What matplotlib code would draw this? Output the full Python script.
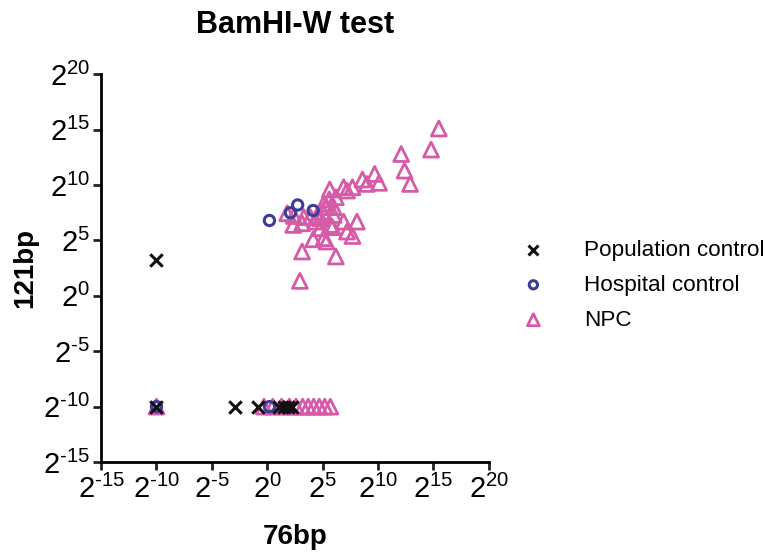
import numpy as np
import matplotlib
matplotlib.use("Agg")
import matplotlib.pyplot as plt
from matplotlib.ticker import FixedLocator, FixedFormatter, NullLocator

plt.rcParams['font.family'] = ['Liberation Sans', 'DejaVu Sans']
plt.rcParams['mathtext.default'] = 'regular'

# values as log2 exponents
pop_x = [-10, -10, -2.9, -0.8, 1.1, 1.5, 1.9, 2.2]
pop_y = [3.2, -10, -10, -10, -10, -10, -10, -10]

hosp_x = [0.2, 2.75, 2.1, 4.15, -10, 0.2]
hosp_y = [6.8, 8.2, 7.5, 7.7, -10, -10]

npc_x = [15.5, 14.8, 12.1, 12.4, 12.9, 9.7, 10.1, 8.6, 9.0, 7.7, 6.9, 7.2, 5.65,
         6.2, 5.6, 5.1, 5.35, 6.0, 5.0, 4.5, 6.0, 4.8, 3.9, 3.3, 2.4, 1.8, 3.15,
         2.35, 4.35, 5.7, 6.9, 8.1, 7.2, 7.7, 5.9, 4.8, 4.15, 5.35, 5.1, 3.15,
         6.2, 2.95,
         -10, -0.3, 0.5, 1.3, 2.0, 2.6, 3.2, 3.7, 4.2, 4.7, 5.2, 5.7]
npc_y = [15.1, 13.2, 12.8, 11.3, 10.1, 11.0, 10.2, 10.5, 10.1, 9.8, 9.8, 9.5, 9.6,
         8.9, 8.7, 8.3, 8.0, 8.0, 7.6, 7.2, 7.3, 7.0, 7.1, 7.1, 7.2, 7.45, 6.55,
         6.4, 6.7, 6.4, 6.7, 6.7, 5.8, 5.4, 6.2, 6.1, 5.1, 4.9, 5.2, 4.0,
         3.55, 1.35,
         -10, -10, -10, -10, -10, -10, -10, -10, -10, -10, -10, -10]

exps = [-15, -10, -5, 0, 5, 10, 15, 20]
# hyphen (U+2010) instead of the math minus, like the original
tick_labels = [r'$2^{%s}$' % str(e).replace('-', '\u2010') for e in exps]

fig = plt.figure(figsize=(7.72, 5.54), dpi=100)
ax = fig.add_axes([0.131, 0.166, 0.502, 0.70])

pink = '#d65aa8'
blue = '#3d3d98'

ax.scatter(2.0 ** np.array(npc_x), 2.0 ** np.array(npc_y), marker='^', s=115,
           facecolors='none', edgecolors=pink, linewidths=2, label='NPC', zorder=2)
ax.scatter(2.0 ** np.array(hosp_x), 2.0 ** np.array(hosp_y), marker='o', s=55,
           facecolors='none', edgecolors=blue, linewidths=2.2,
           label='Hospital control', zorder=3)
ax.scatter(2.0 ** np.array(pop_x), 2.0 ** np.array(pop_y), marker='x', s=80,
           color='#111111', linewidths=2.2, label='Population control', zorder=4)

ax.set_xscale('log', base=2)
ax.set_yscale('log', base=2)
ax.set_xlim(2.0 ** -15, 2.0 ** 20)
ax.set_ylim(2.0 ** -15, 2.0 ** 20)

for axis in (ax.xaxis, ax.yaxis):
    axis.set_major_locator(FixedLocator([2.0 ** e for e in exps]))
    axis.set_major_formatter(FixedFormatter(tick_labels))
    axis.set_minor_locator(NullLocator())

ax.spines['top'].set_visible(False)
ax.spines['right'].set_visible(False)
ax.spines['left'].set_linewidth(2)
ax.spines['bottom'].set_linewidth(2)
ax.tick_params(width=2, length=6, labelsize=21, color='#222222')
ax.tick_params(axis='y', pad=2)

ax.set_title('BamHI-W test', fontsize=22, fontweight='bold', pad=30)
ax.set_xlabel('76bp', fontsize=20, fontweight='bold', labelpad=14)
ax.set_ylabel('121bp', fontsize=20, fontweight='bold', labelpad=3)

handles, labels = ax.get_legend_handles_labels()
ax.legend(handles[::-1], labels[::-1], loc='center left',
          bbox_to_anchor=(1.005, 0.456), frameon=False, fontsize=16.2,
          handletextpad=1.25, labelspacing=0.62, markerscale=0.8)

fig.savefig('out.png', dpi=100)
